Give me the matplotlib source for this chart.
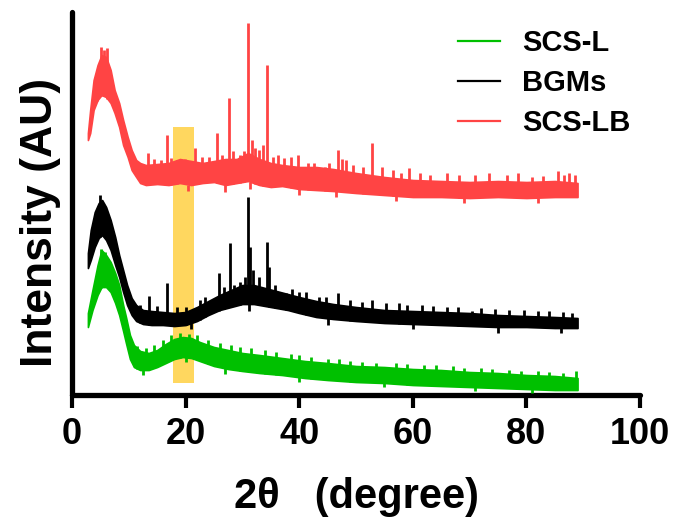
import numpy as np
import matplotlib
matplotlib.use('Agg')
import matplotlib.pyplot as plt

plt.rcParams['font.family'] = ['Liberation Sans', 'DejaVu Sans']
plt.rcParams['font.weight'] = 'bold'

# ---------------------------------------------------------------------------
# Data (intensity in arbitrary units, stacked offsets)
# each pattern: noise band (lower / upper edge) plus sharp reflections / noise spikes
# ---------------------------------------------------------------------------

# SCS-LB (red)
red_x = [2.8, 3.2, 3.8, 4.5, 5.2, 6.0, 6.8, 7.5, 8.3, 9.0, 9.8, 10.5, 11.3, 12.0,
         13.0, 15, 17, 19, 21, 23, 25, 27, 29, 31, 33, 35, 37, 40, 43, 46, 50,
         55, 60, 65, 70, 75, 80, 85, 89]
red_lo = [255, 262, 285, 295, 300, 298, 292, 282, 268, 250, 238, 225, 218, 212,
          210, 211, 210, 212, 210, 212, 213, 210, 212, 214, 210, 208, 209, 206, 205, 204, 202,
          200, 198, 198, 197, 198, 197, 198, 198]
red_hi = [262, 285, 315, 330, 340, 338, 325, 305, 292, 275, 258, 245, 235, 232,
          230, 231, 232, 236, 234, 232, 234, 236, 236, 242, 236, 232, 230, 228, 228, 226, 222,
          218, 215, 214, 213, 214, 213, 214, 212]
red_pk_x = [4.4, 5.1, 5.6, 6.2, 13.4, 16.8, 18.5, 19.9, 21.7, 25.6, 27.7, 29.5, 31.0, 31.6,
            32.3, 32.9, 34.3, 35.3, 39.7, 41.5, 44.5, 46.8, 48.3, 52.9, 59.4, 86.6,
            14.5, 15.6, 17.5, 22.8, 24.2, 26.4, 28.4, 30.2, 33.6, 36.2, 37.3, 38.5,
            42.6, 45.2, 47.5, 49.5, 51.2, 54.5, 56.5, 58.0, 61.2, 63.0, 66.0, 68.2,
            71.0, 73.5, 76.5, 78.5, 81.0, 83.0, 85.5, 87.5, 88.5,
            20.5, 27.0, 31.3, 40.0, 46.5, 57.0, 69.0, 82.0]
red_pk_y = [325, 348, 345, 347, 242, 260, 235, 236, 247, 262, 297, 240, 372, 255,
            247, 245, 330, 238, 240, 232, 228, 245, 235, 252, 227, 220,
            236, 235, 237, 238, 238, 240, 244, 244, 250, 240, 237, 238,
            232, 232, 236, 230, 228, 228, 225, 222, 222, 220, 222, 220,
            220, 222, 220, 222, 218, 219, 224, 222, 220,
            204, 203, 206, 200, 198, 194, 192, 192]

# BGMs (black)
blk_x = [2.8, 3.3, 4.0, 4.7, 5.3, 6.0, 6.8, 7.6, 8.3, 9.0, 9.7, 10.5, 11.3, 12.5,
         14, 16, 18, 20, 22, 24, 26, 28, 30, 32, 34, 36, 38, 40, 43, 46, 50,
         55, 60, 65, 70, 75, 80, 85, 89]
blk_lo = [127, 135, 148, 157, 160, 155, 145, 130, 118, 103, 90, 80, 74, 71,
          70, 70, 69, 70, 74, 80, 85, 88, 91, 91, 89, 87, 85, 82, 78, 76, 74,
          72, 71, 70, 69, 68, 68, 67, 67]
blk_hi = [142, 165, 183, 192, 195, 188, 175, 158, 140, 125, 110, 97, 90, 85,
          84, 83, 82, 83, 88, 94, 100, 105, 110, 110, 107, 104, 101, 98, 94, 91, 88,
          85, 84, 83, 82, 80, 79, 78, 77]
blk_pk_x = [5.0, 13.5, 16.8, 20.0, 25.8, 27.9, 28.5, 29.6, 31.0, 31.4, 31.8, 34.4, 34.7,
            37.6, 39.9, 43.4, 46.9, 52.8, 61.6, 70.5,
            12.0, 15.0, 18.5, 22.5, 23.5, 26.8, 30.5, 33.0, 35.8, 38.8, 41.2, 44.8,
            49.0, 51.0, 55.2, 57.5, 59.0, 63.5, 66.0, 68.0, 72.0, 74.5, 77.0, 79.5,
            82.0, 84.0, 86.5, 88.0,
            21.0, 31.2, 45.0, 60.0, 75.0, 86.0]
blk_pk_y = [200, 99, 112, 88, 122, 152, 110, 113, 198, 148, 125, 153, 128,
            102, 103, 98, 102, 95, 90, 84,
            90, 89, 88, 95, 98, 108, 118, 118, 110, 106, 103, 98,
            95, 93, 92, 92, 90, 89, 88, 88, 87, 86, 85, 85,
            84, 84, 83, 82,
            66, 84, 70, 66, 62, 62]

# SCS-L (green)
grn_x = [2.8, 3.6, 4.5, 5.2, 6.0, 6.8, 7.6, 8.3, 9.0, 9.5, 10.2, 10.9, 12, 13.5,
         15, 16.5, 18, 19.5, 21, 22.5, 25, 27.5, 30, 33, 37, 41, 45, 50,
         55, 60, 65, 70, 75, 80, 85, 89]
grn_lo = [68, 85, 100, 108, 108, 103, 92, 80, 64, 52, 36, 28, 25, 25,
          28, 32, 36, 38, 37, 34, 29, 26, 24, 22, 20, 17, 15, 13,
          12, 10, 9, 8, 7, 6, 5, 5]
grn_hi = [82, 105, 130, 145, 140, 133, 122, 110, 90, 78, 60, 50, 44, 42,
          45, 51, 56, 58, 57, 53, 48, 45, 42, 40, 37, 34, 32, 29,
          28, 26, 25, 23, 22, 20, 19, 17]
grn_pk_x = [5.1, 5.8, 19.0, 20.6, 45.0, 53.5, 88.7,
            11.5, 13.0, 14.5, 16.0, 17.5, 22.0, 24.0, 26.0, 28.0, 29.5, 31.5, 34.0,
            36.0, 38.5, 40.0, 42.0, 47.0, 49.0, 51.0, 57.0, 59.0, 62.0, 64.0, 67.0,
            69.0, 72.0, 74.0, 77.0, 79.0, 82.0, 84.0, 86.5,
            12.5, 20.0, 27.0, 40.0, 55.0, 71.0, 81.0]
grn_pk_y = [146, 143, 62, 61, 36, 32, 24,
            49, 47, 50, 55, 60, 60, 55, 52, 50, 48, 47, 45,
            43, 41, 40, 38, 36, 34, 33, 32, 31, 30, 30, 29,
            27, 27, 26, 25, 24, 24, 23, 22,
            20, 33, 21, 13, 8, 4, 2]

# highlighted region (2θ range) behind the curves
band_x = [17.8, 21.4]
band_y = [12, 268]

series = [
    ('SCS-L', '#00C000', grn_x, grn_lo, grn_hi, grn_pk_x, grn_pk_y),
    ('BGMs', 'black', blk_x, blk_lo, blk_hi, blk_pk_x, blk_pk_y),
    ('SCS-LB', '#FF4444', red_x, red_lo, red_hi, red_pk_x, red_pk_y),
]

fig = plt.figure(figsize=(6.73, 5.23), dpi=100)
ax = fig.add_axes([0.107, 0.2447, 0.844, 0.7323])

ax.fill_between(band_x, band_y[0], band_y[1], color='#FFD75F', lw=0, zorder=1)

for name, col, x, lo, hi, pk_x, pk_y in series:
    ax.fill_between(x, lo, hi, color=col, lw=1.2, edgecolor=col, zorder=2)
    base = np.interp(pk_x, x, lo)
    ax.vlines(pk_x, base, pk_y, color=col, lw=2.0, zorder=3)
    ax.plot([], [], color=col, lw=1.6, label=name)

ax.set_xlim(0, 100)
ax.set_ylim(0, 383)
ax.set_xticks([0, 20, 40, 60, 80, 100])
ax.set_yticks([])
for s in ['top', 'right']:
    ax.spines[s].set_visible(False)
for s in ['left', 'bottom']:
    ax.spines[s].set_linewidth(3.8)
    ax.spines[s].set_capstyle('round')
ax.tick_params(axis='x', width=3.0, length=9.5, pad=6, labelsize=26)

ax.set_xlabel('2θ   (degree)', fontsize=30, fontweight='bold', labelpad=18)
ax.set_ylabel('Intensity (AU)', fontsize=32, fontweight='bold')
ax.yaxis.set_label_coords(-0.02, 0.45)

ax.legend(loc='upper left', bbox_to_anchor=(0.6805, 0.945), bbox_transform=fig.transFigure,
          frameon=False, fontsize=21, handlelength=1.45, handletextpad=0.75,
          labelspacing=0.42, borderpad=0, borderaxespad=0)

plt.savefig('out.png', dpi=100)
plt.close()
